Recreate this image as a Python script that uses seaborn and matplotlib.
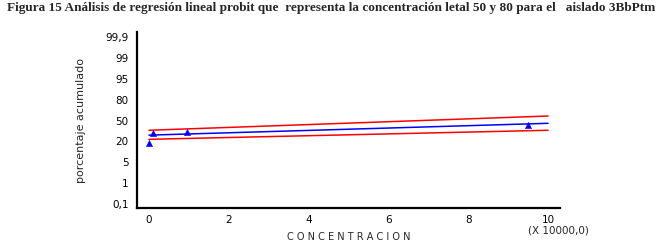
import numpy as np
import matplotlib
matplotlib.use("Agg")
import matplotlib.pyplot as plt
import seaborn as sns

# tick labels on the probit-like axis (drawn equally spaced)
pct_ticks = [0.1, 1, 5, 20, 50, 80, 95, 99, 99.9]
pct_labels = ["0,1", "1", "5", "20", "50", "80", "95", "99", "99,9"]

# observed points (concentration x 10000, cumulative percent)
obs_conc = [0.0, 0.09, 0.95, 9.5]
obs_pct = [19, 32, 33.5, 43]

# fitted line and confidence limits (end points)
fit_conc = [0.0, 10.0]
fit_pct = [29, 46]
upper_pct = [36, 56.5]
lower_pct = [23, 36]

# scale: each labelled percent sits one step above the previous one
scale_pct = [0.0] + pct_ticks + [100.0]
scale_idx = np.arange(-1, len(pct_ticks) + 1, dtype=float)


def fwd(p):
    return np.interp(p, scale_pct, scale_idx)


def inv(i):
    return np.interp(i, scale_idx, scale_pct)


sns.set_style("white")
plt.rcParams["font.family"] = ["DejaVu Sans"]

fig = plt.figure(figsize=(6.6, 2.52), dpi=100)
ax = fig.add_axes([0.2076, 0.1746, 0.8485 - 0.2076, 0.873 - 0.1746])
ax.set_yscale("function", functions=(fwd, inv))

sns.lineplot(x=fit_conc, y=upper_pct, color="red", lw=1.1, ax=ax)
sns.lineplot(x=fit_conc, y=lower_pct, color="red", lw=1.1, ax=ax)
sns.lineplot(x=fit_conc, y=fit_pct, color="blue", lw=1.1, ax=ax)
sns.scatterplot(x=obs_conc, y=obs_pct, marker="^", color="blue", s=20,
                edgecolor="blue", ax=ax, zorder=5)

ax.set_xlim(-0.3, 10.3)
ax.set_ylim(inv(-0.19), inv(8.24))
ax.set_yticks(pct_ticks)
ax.set_yticklabels(pct_labels)
ax.set_xticks([0, 2, 4, 6, 8, 10])
ax.set_xticklabels(["0", "2", "4", "6", "8", "10"])
ax.set_xticks(np.arange(0, 10.01, 0.5), minor=True)
ax.yaxis.set_minor_locator(matplotlib.ticker.NullLocator())

for s in ["top", "right"]:
    ax.spines[s].set_visible(False)
for s in ["left", "bottom"]:
    ax.spines[s].set_color("black")
    ax.spines[s].set_linewidth(1.6)

ax.tick_params(axis="y", which="major", direction="out", length=5, width=1.6,
               colors="black", labelsize=7.5, pad=1)
ax.tick_params(axis="x", which="both", direction="out", length=2, width=1.5,
               colors="black", labelsize=7.5, pad=3)

ax.set_ylabel("porcentaje acumulado", fontsize=8, labelpad=14)
ax.set_xlabel("C O N C E N T R A C I O N", fontsize=7, labelpad=5)
ax.text(10.25, -0.13, "(X 10000,0)", transform=ax.get_xaxis_transform(),
        ha="center", va="center", fontsize=7.5)

fig.text(0.011, 0.97, "Figura 15 Análisis de regresión lineal probit que  representa la concentración letal 50 y 80 para el   aislado 3BbPtm",
         fontsize=9.5, fontweight="bold", family="Liberation Serif", ha="left", va="center")

fig.savefig("out.png", dpi=100)
